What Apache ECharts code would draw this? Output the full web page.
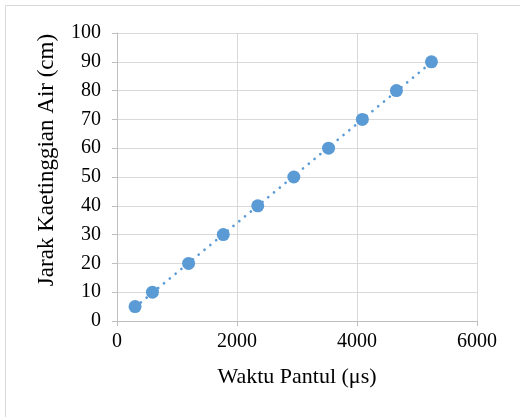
<!DOCTYPE html>
<html><head><meta charset="utf-8">
<script src="https://cdn.jsdelivr.net/npm/echarts@6/dist/echarts.min.js"></script>
<style>html,body{margin:0;padding:0;background:#fff}#c{width:520px;height:417px}</style>
</head><body><div id="c"></div>
<script>
const waktuPantul = [301, 591, 1193, 1771, 2346, 2947, 3526, 4089, 4657, 5241];
const jarakAir = [5, 10, 20, 30, 40, 50, 60, 70, 80, 90];
const xTicks = [0, 2000, 4000, 6000];
const yTicks = [0, 10, 20, 30, 40, 50, 60, 70, 80, 90, 100];
const xName = 'Waktu Pantul (μs)';
const yName = 'Jarak Kaetinggian Air (cm)';

// linear trendline (least squares) from data
const n = waktuPantul.length;
let sx=0, sy=0, sxx=0, sxy=0;
for (let i=0;i<n;i++){sx+=waktuPantul[i];sy+=jarakAir[i];sxx+=waktuPantul[i]*waktuPantul[i];sxy+=waktuPantul[i]*jarakAir[i];}
const slope=(n*sxy-sx*sy)/(n*sxx-sx*sx), icpt=(sy-slope*sx)/n;
const x0=Math.min(...waktuPantul), x1=Math.max(...waktuPantul);
const trend=[[x0,icpt+slope*x0],[x1,icpt+slope*x1]];

const font='"Liberation Serif","Times New Roman",serif';
const chart=echarts.init(document.getElementById('c'));
chart.setOption({
  animation:false,
  grid:{left:117,right:43,top:33,bottom:96},
  graphic:[
    {type:'rect',shape:{x:5.5,y:5.5,width:600,height:600},style:{fill:'none',stroke:'#d9d9d9',lineWidth:1}},
    {type:'text',x:47,y:160,rotation:Math.PI/2,style:{text:yName,font:'23px '+font,fill:'#000',align:'center',verticalAlign:'middle'}}
  ],
  xAxis:{type:'value',min:xTicks[0],max:xTicks[xTicks.length-1],interval:2000,
    name:xName,nameLocation:'middle',nameGap:45,nameTextStyle:{fontFamily:font,fontSize:22,color:'#000'},
    axisLine:{show:true,lineStyle:{color:'#bfbfbf',width:1}},
    axisTick:{show:true,length:5,lineStyle:{color:'#bfbfbf'}},
    axisLabel:{fontFamily:font,fontSize:20,color:'#000',margin:11,formatter:v=>String(v)},
    splitLine:{show:true,lineStyle:{color:'#d9d9d9',width:1}}},
  yAxis:{type:'value',min:yTicks[0],max:yTicks[yTicks.length-1],interval:10,
    axisLine:{show:true,lineStyle:{color:'#bfbfbf',width:1}},
    axisTick:{show:true,length:5,lineStyle:{color:'#bfbfbf'}},
    axisLabel:{fontFamily:font,fontSize:20,color:'#000',margin:16,formatter:v=>String(v)},
    splitLine:{show:true,lineStyle:{color:'#d9d9d9',width:1}}},
  series:[
    {type:'line',data:trend,symbol:'none',lineStyle:{color:'#5b9bd5',width:2.7,type:[0.01,7.5],cap:'round'},z:1},
    {type:'scatter',data:waktuPantul.map((x,i)=>[x,jarakAir[i]]),symbolSize:13,itemStyle:{color:'#5b9bd5',opacity:1},z:2}
  ]
});
</script></body></html>
